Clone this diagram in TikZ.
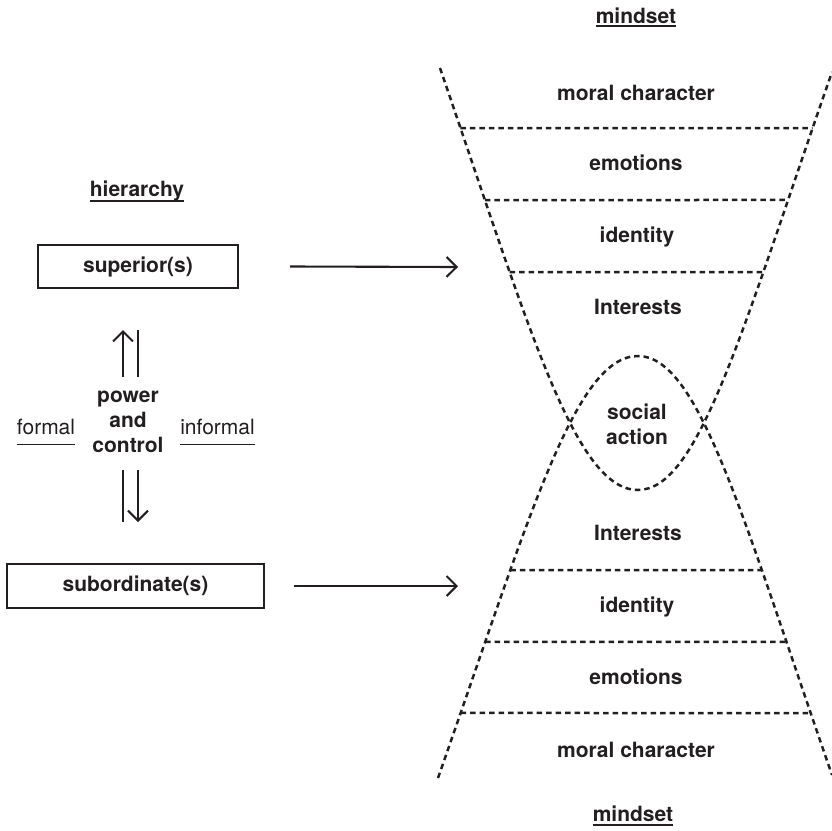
\documentclass[tikz,border=0pt]{standalone}
\usepackage{fontspec}
\setmainfont{TeX Gyre Heros}
\usetikzlibrary{arrows.meta,intersections}
\definecolor{ink}{RGB}{35,31,32}
\begin{document}
\begin{tikzpicture}[x=1pt,y=-1pt,
  every node/.style={text=ink},
  lbl/.style={font=\fontsize{21}{25}\selectfont\bfseries, inner sep=0pt},
  plain/.style={font=\fontsize{21}{25}\selectfont, inner sep=0pt},
  rolebox/.style={draw=ink, line width=2.1pt, inner sep=0pt,
    font=\fontsize{21}{25}\selectfont\bfseries},
  layer/.style={draw=ink, line width=2.5pt, dash pattern=on 5.5pt off 4pt},
  link/.style={draw=ink, line width=2.1pt, -{Straight Barb[length=10pt,width=20pt]}},
  bar/.style={draw=ink, line width=2.1pt},
  uline/.style={draw=ink, line width=1.7pt}]
\useasboundingbox (0,0) rectangle (832,830);

% ---------- hierarchy side ----------
\node[lbl] (hier) at (137,191) {hierarchy};
\draw[uline] ([yshift=-4.5pt]hier.base west) -- ([yshift=-4.5pt]hier.base east);

\node[rolebox, minimum width=200pt, minimum height=43pt] (sup) at (138,266.5) {superior(s)};
\node[rolebox, minimum width=257pt, minimum height=44pt] (sub) at (135.5,586) {subordinate(s)};

\node[lbl, align=center] (pc) at (128,422) {power\\and\\control};
\node[plain] (formal) at (46,427) {formal};
\node[plain] (informal) at (217.5,427) {informal};
\draw[uline] ([yshift=-10pt]formal.base west) -- ([yshift=-10pt]formal.base east);
\draw[uline] ([yshift=-10pt]informal.base west) -- ([yshift=-10pt]informal.base east);

% upward and downward power arrows
\coordinate (upL0) at (123,377);  \coordinate (upL1) at (123,330);
\coordinate (upR0) at (138,377);  \coordinate (upR1) at (138,330);
\coordinate (dnL0) at (123,470);  \coordinate (dnL1) at (123,522);
\coordinate (dnR0) at (138,470);  \coordinate (dnR1) at (138,522);
\draw[link] (upL0) -- (upL1);
\draw[bar]  (upR0) -- (upR1);
\draw[bar]  (dnL0) -- (dnL1);
\draw[link] (dnR0) -- (dnR1);

% arrows into the mindset funnels
\coordinate (supIn) at (458,267);
\coordinate (subIn) at (458,586);
\draw[link] ([xshift=51pt]sup.east) -- (supIn);
\draw[link] ([xshift=28.5pt]sub.east) -- (subIn);

% ---------- mindset funnels ----------
\path[name path=upcup] (440,68) .. controls (530,330) and (575,490) .. (638,490)
   .. controls (699,490) and (742,330) .. (832,72);
\path[name path=lowcup] (438,778) .. controls (530,516) and (575,356) .. (638,356)
   .. controls (699,356) and (742,516) .. (832,775);
\draw[layer] (440,68) .. controls (530,330) and (575,490) .. (638,490)
   .. controls (699,490) and (742,330) .. (832,72);
\draw[layer] (438,778) .. controls (530,516) and (575,356) .. (638,356)
   .. controls (699,356) and (742,516) .. (832,775);

\foreach \yy in {128,200,272} {
  \path[name path=hline] (400,\yy) -- (850,\yy);
  \draw[layer, name intersections={of=upcup and hline, name=p}] (p-1) -- (p-2);
}
\foreach \yy in {570,642,713} {
  \path[name path=hline] (400,\yy) -- (850,\yy);
  \draw[layer, name intersections={of=lowcup and hline, name=q}] (q-1) -- (q-2);
}

\node[lbl] (mindTop) at (636,15.5) {mindset};
\draw[uline] ([yshift=-3pt]mindTop.base west) -- ([yshift=-3pt]mindTop.base east);
\node[lbl] (mc1) at (636,93) {moral character};
\node[lbl] (em1) at (636,163) {emotions};
\node[lbl] (id1) at (637,237) {identity};
\node[lbl] (in1) at (638,307) {Interests};
\node[lbl, align=center] (sa) at (637,424.75) {social\\action};
\node[lbl] (in2) at (638,533) {Interests};
\node[lbl] (id2) at (637,607) {identity};
\node[lbl] (em2) at (636,677) {emotions};
\node[lbl] (mc2) at (636,750) {moral character};
\node[lbl] (mindBot) at (633,814) {mindset};
\draw[uline] ([yshift=-3pt]mindBot.base west) -- ([yshift=-3pt]mindBot.base east);
\end{tikzpicture}
\end{document}
